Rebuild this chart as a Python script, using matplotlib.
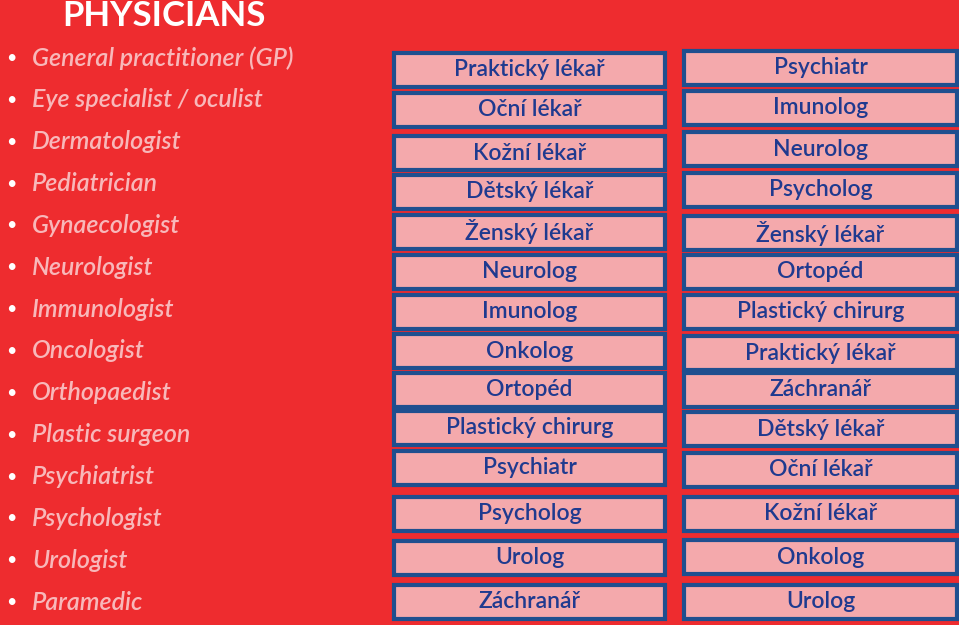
import matplotlib
matplotlib.use("Agg")
import matplotlib.pyplot as plt
from matplotlib.patches import Rectangle

title = "PHYSICIANS"
english = ["General practitioner (GP)", "Eye specialist / oculist", "Dermatologist",
           "Pediatrician", "Gynaecologist", "Neurologist", "Immunologist", "Oncologist",
           "Orthopaedist", "Plastic surgeon", "Psychiatrist", "Psychologist", "Urologist",
           "Paramedic"]
col1 = ["Praktický lékař", "Oční lékař", "Kožní lékař", "Dětský lékař", "Ženský lékař",
        "Neurolog", "Imunolog", "Onkolog", "Ortopéd", "Plastický chirurg", "Psychiatr",
        "Psycholog", "Urolog", "Záchranář"]
col2 = ["Psychiatr", "Imunolog", "Neurolog", "Psycholog", "Ženský lékař", "Ortopéd",
        "Plastický chirurg", "Praktický lékař", "Záchranář", "Dětský lékař", "Oční lékař",
        "Kožní lékař", "Onkolog", "Urolog"]

list_y = [58 + i * 41.85 for i in range(14)]
box1_y = [70, 110, 153, 192, 232, 272, 312, 351, 390, 428, 468, 514, 558, 602]
box2_y = [68, 108, 149, 190, 233, 272, 312, 353, 390, 429, 470, 514, 557, 602]

RED = "#EE2C2F"
fig = plt.figure(figsize=(9.59, 6.25), dpi=100)
fig.patch.set_facecolor(RED)
ax = fig.add_axes([0, 0, 1, 1])
ax.set_xlim(0, 959); ax.set_ylim(625, 0); ax.axis("off")
ax.set_facecolor(RED)

font = "Lato"
ax.text(62, 16, title, fontsize=25, fontweight="bold", color="white", va="center", ha="left", family=font)
for y, t in zip(list_y, english):
    ax.text(6, y, "•", fontsize=13, color="white", va="center", family=font)
    ax.text(32, y, t, fontsize=18, color="#F8B8BA", style="italic", fontweight="semibold",
            va="center", family=font)

def boxes(x0, w, ys, labels):
    for y, t in zip(ys, labels):
        ax.add_patch(Rectangle((x0, y - 17), w, 34, facecolor="#F4A9AC",
                               edgecolor="#1F4F8F", linewidth=3))
        ax.text(x0 + w / 2, y, t, fontsize=16.5, color="#1F3A8F", ha="center",
                va="center", fontweight="semibold", family=font)

boxes(394, 271, box1_y, col1)
boxes(684, 273, box2_y, col2)
fig.savefig("out.png", dpi=100, facecolor=RED)
